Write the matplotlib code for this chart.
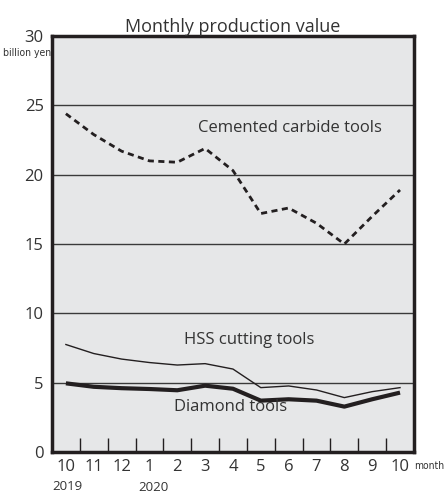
import matplotlib.pyplot as plt
import numpy as np

# Monthly data, Oct 2019 - Oct 2020 (billion yen)
months = ['10', '11', '12', '1', '2', '3', '4', '5', '6', '7', '8', '9', '10']
carbide = [24.4, 22.9, 21.7, 21.0, 20.9, 21.9, 20.3, 17.2, 17.6, 16.5, 15.0, 17.0, 18.9]
hss = [7.75, 7.1, 6.7, 6.45, 6.27, 6.37, 5.98, 4.64, 4.76, 4.47, 3.92, 4.35, 4.64]
diamond = [4.95, 4.7, 4.6, 4.54, 4.45, 4.78, 4.56, 3.7, 3.8, 3.7, 3.27, 3.8, 4.28]
years = ['2019', '2020']
yticks = [0, 5, 10, 15, 20, 25, 30]

ink = '#231f20'
txt = '#333333'
plt.rcParams['font.family'] = ['Open Sans', 'DejaVu Sans']

fig = plt.figure(figsize=(4.48, 4.95), dpi=100)
fig.patch.set_facecolor('white')
ax = fig.add_axes([0.116, 0.087, 0.808, 0.840])
ax.set_facecolor('#e6e7e8')

x = np.arange(len(months)) + 0.5

# gridlines
for v in yticks[1:-1]:
    ax.axhline(v, color='#3a3a3a', lw=1.0, zorder=1)

ax.plot(x, carbide, color=ink, lw=2.0, linestyle=(0, (2.2, 1.6)), zorder=3)
ax.plot(x, hss, color=ink, lw=1.0, zorder=3)
ax.plot(x, diamond, color=ink, lw=3.0, zorder=3, solid_capstyle='butt')

ax.set_xlim(0, len(months))
ax.set_ylim(0, 30)

ax.set_yticks(yticks)
ax.set_yticklabels([str(v) for v in yticks], fontsize=12, color=txt)
ax.tick_params(axis='y', length=0, pad=6)

ax.set_xticks(x)
ax.set_xticklabels(months, fontsize=12, color=txt)
ax.tick_params(axis='x', length=0, pad=5)
ax.set_xticks(np.arange(1, len(months)), minor=True)
ax.tick_params(axis='x', which='minor', direction='in', length=10, width=1.0, color=ink)

for s in ax.spines.values():
    s.set_linewidth(2.5)
    s.set_color(ink)

ax.set_title('Monthly production value', fontsize=13, color=txt, pad=3)

# series labels
ax.text(8.56, 23.4, 'Cemented carbide tools', fontsize=12, color=txt, ha='center', va='center')
ax.text(7.09, 8.07, 'HSS cutting tools', fontsize=12, color=txt, ha='center', va='center')
ax.text(6.4, 3.24, 'Diamond tools', fontsize=12, color=txt, ha='center', va='center')

# units and years
ax.text(-0.02, 28.8, 'billion yen', fontsize=7.5, color=txt, ha='right', va='center',
        family='DejaVu Sans', fontstretch='condensed')
ax.text(13.0, -1.0, 'month', fontsize=7.5, color=txt, ha='left', va='center',
        family='DejaVu Sans', fontstretch='condensed')
ax.text(0.56, -2.5, years[0], fontsize=9.5, color=txt, ha='center', va='center')
ax.text(3.63, -2.6, years[1], fontsize=9.5, color=txt, ha='center', va='center')

plt.savefig('out.png', dpi=100, facecolor='white')
